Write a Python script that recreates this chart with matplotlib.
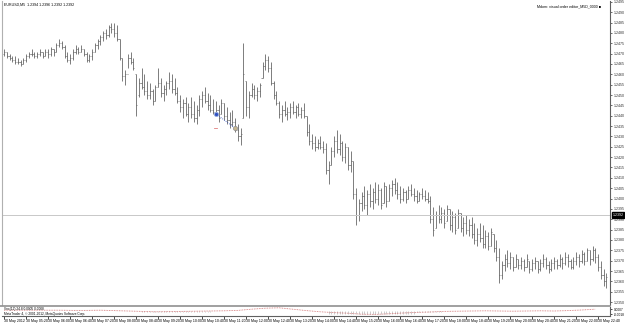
import numpy as np
import matplotlib.pyplot as plt

plt.rcParams['font.family'] = ['Liberation Sans', 'DejaVu Sans']

# EURUSD M5 bars, prices in pips above 1.2300
high = [172, 171, 170, 169, 169, 168, 167, 168, 170, 171, 172, 171, 171, 172, 171, 172, 172, 173, 172,
        175, 177, 176, 174, 171, 170, 172, 174, 173, 174, 172, 171, 170, 172, 175, 177, 179, 181, 182,
        184, 185, 185, 184, 177, 168, 162, 170, 171, 168, 160, 158, 163, 160, 157, 156, 153, 155, 163,
        158, 155, 157, 161, 160, 158, 154, 150, 148, 149, 146, 149, 147, 145, 150, 152, 154, 151, 150,
        148, 147, 145, 148, 146, 144, 142, 143, 139, 136, 134, 175, 157, 152, 156, 155, 154, 156, 166,
        170, 169, 166, 157, 152, 147, 145, 147, 144, 146, 147, 145, 146, 144, 146, 140, 136, 131, 130,
        129, 130, 128, 127, 118, 125, 130, 133, 131, 128, 127, 125, 123, 118, 105, 100, 103, 106, 104,
        107, 105, 108, 107, 105, 108, 106, 107, 109, 110, 108, 106, 105, 104, 106, 107, 105, 104, 103,
        105, 104, 103, 101, 96, 94, 97, 96, 95, 97, 95, 94, 93, 95, 93, 91, 92, 90, 91, 88, 86, 88, 87,
        85, 84, 86, 83, 80, 76, 70, 73, 75, 74, 72, 73, 71, 72, 71, 73, 70, 71, 72, 70, 71, 73, 72, 70,
        71, 72, 71, 73, 72, 74, 73, 71, 72, 74, 73, 75, 74, 76, 75, 77, 76, 73, 70, 66, 64]
low = [169, 168, 167, 166, 165, 165, 164, 165, 166, 168, 169, 168, 168, 169, 168, 169, 168, 169, 169,
       171, 173, 172, 168, 166, 165, 167, 170, 170, 171, 169, 166, 166, 167, 171, 172, 174, 176, 177,
       178, 180, 178, 176, 167, 157, 155, 163, 165, 162, 140, 149, 153, 150, 148, 148, 145, 147, 154,
       149, 147, 150, 153, 151, 150, 146, 142, 139, 140, 137, 139, 137, 136, 140, 144, 146, 143, 142,
       141, 140, 137, 141, 138, 136, 134, 135, 132, 128, 126, 139, 140, 139, 149, 148, 147, 149, 158,
       162, 161, 155, 148, 145, 139, 137, 140, 138, 139, 141, 139, 140, 139, 139, 130, 126, 124, 123,
       124, 124, 122, 112, 107, 116, 120, 122, 121, 118, 117, 114, 113, 100, 87, 89, 94, 95, 92, 96,
       95, 98, 97, 95, 98, 96, 99, 101, 102, 100, 98, 99, 98, 100, 101, 99, 98, 99, 100, 99, 98, 88,
       82, 86, 88, 88, 86, 89, 85, 84, 83, 86, 84, 82, 83, 82, 81, 78, 77, 79, 76, 76, 75, 77, 74, 70,
       59, 61, 65, 67, 66, 65, 67, 66, 66, 65, 67, 64, 65, 66, 64, 65, 67, 66, 64, 65, 66, 66, 67, 66,
       68, 67, 66, 66, 68, 67, 69, 68, 70, 68, 70, 69, 65, 61, 58, 57]
open_ = [170, 171, 169, 168, 167, 166, 166, 165, 167, 169, 170, 170, 169, 170, 171, 169, 171, 170, 172,
         171, 174, 175, 173, 169, 167, 168, 171, 172, 171, 172, 170, 167, 169, 171, 174, 176, 178, 180,
         179, 183, 182, 180, 177, 168, 159, 160, 168, 166, 160, 150, 156, 154, 152, 150, 152, 147, 154,
         156, 151, 153, 156, 157, 153, 151, 147, 144, 146, 141, 144, 141, 139, 143, 148, 150, 147, 145,
         143, 142, 143, 141, 146, 140, 138, 136, 137, 133, 130, 139, 157, 144, 150, 153, 150, 152, 158,
         164, 167, 163, 156, 150, 146, 141, 143, 141, 142, 144, 142, 144, 141, 143, 140, 132, 128, 127,
         125, 127, 125, 124, 114, 116, 123, 128, 124, 127, 120, 125, 116, 118, 102, 92, 98, 101, 97,
         102, 99, 103, 100, 104, 98, 106, 99, 105, 107, 104, 102, 100, 103, 100, 104, 102, 101, 99, 102,
         101, 100, 99, 90, 86, 92, 90, 93, 89, 95, 87, 91, 86, 93, 86, 88, 85, 87, 83, 80, 83, 81, 78,
         82, 77, 83, 76, 72, 63, 68, 71, 69, 72, 67, 71, 68, 70, 67, 70, 66, 69, 70, 66, 69, 71, 68, 66,
         69, 70, 68, 71, 69, 72, 70, 67, 70, 72, 70, 73, 70, 75, 71, 75, 72, 67, 63, 60]
close = [171, 169, 168, 167, 166, 166, 165, 167, 169, 170, 170, 169, 170, 171, 169, 171, 170, 172, 171,
         174, 175, 173, 169, 167, 168, 171, 172, 171, 172, 170, 167, 169, 171, 174, 176, 178, 180, 179,
         183, 182, 180, 177, 168, 159, 160, 168, 166, 163, 145, 156, 154, 152, 150, 152, 147, 154, 156,
         151, 153, 156, 157, 153, 151, 147, 144, 146, 141, 144, 141, 139, 143, 148, 150, 147, 145, 143,
         142, 143, 139, 146, 140, 138, 136, 137, 133, 130, 131, 160, 144, 150, 153, 150, 152, 155, 164,
         167, 163, 156, 150, 146, 141, 143, 141, 142, 144, 142, 144, 141, 143, 140, 132, 128, 127, 125,
         127, 125, 124, 114, 116, 123, 128, 124, 127, 120, 125, 116, 118, 102, 92, 98, 101, 97, 102, 99,
         103, 100, 104, 97, 106, 99, 105, 107, 104, 102, 100, 103, 100, 104, 102, 101, 99, 102, 101,
         100, 99, 90, 85, 92, 90, 93, 88, 95, 87, 91, 85, 93, 86, 88, 85, 87, 83, 80, 83, 81, 78, 82, 77,
         84, 76, 72, 63, 68, 71, 69, 72, 67, 71, 68, 70, 67, 71, 66, 69, 70, 66, 69, 71, 68, 66, 69, 70,
         68, 71, 69, 72, 70, 67, 70, 72, 70, 73, 70, 75, 71, 75, 72, 67, 63, 60, 62]

bid = 1.2392
header = "EURUSD,M5  1.2394 1.2396 1.2392 1.2392"
expert = "Mdom: visual order editor_M5D_0000"

# trade arrows (bar index, pips above 1.2300)
trade_bars = [77, 84]
trade_pips = [141, 134]

time_labels = ["30 May 2012", "30 May 05:20", "30 May 06:00", "30 May 06:40", "30 May 07:20",
               "30 May 08:00", "30 May 08:40", "30 May 09:20", "30 May 10:00", "30 May 10:40",
               "30 May 11:20", "30 May 12:00", "30 May 12:40", "30 May 13:20", "30 May 14:00",
               "30 May 14:40", "30 May 15:20", "30 May 16:00", "30 May 16:40", "30 May 17:20",
               "30 May 18:00", "30 May 18:40", "30 May 19:20", "30 May 20:00", "30 May 20:40",
               "30 May 21:20", "30 May 22:00", "30 May 22:40"]

# indicator sub-window, units of 0.0001
ind_bars = list(range(0, 220, 5))
ind_vals = [3, 3, 3, 3, 3, 2, 2, 3, 1, -1, -3, -5, -4, -3, -2, -1, 0, 2, 8, 13, 15, 8, 1, -5,
            -9, -12, -17, -18, -15, -11, -8, -6, -3, -2, -1, 0, -1, -2, -1, 0, -1, 1, 4, 8]
hist = [0] * 50 + [-6] * 26 + [0] * 42 + [-14] * 32 + [-8] * 10 + [0] * 60
ind_title = "Vnc(12) 24.8 0.0005 0.0008"

base = 1.2300
hi = base + np.array(high) / 1e4
lo = base + np.array(low) / 1e4
op = base + np.array(open_) / 1e4
cl = base + np.array(close) / 1e4
x = np.arange(len(high))

W, H = 625, 325
fig = plt.figure(figsize=(W / 100, H / 100), dpi=100)
fs = 2.6

ax = fig.add_axes([2 / W, 1 - 305 / H, 608 / W, 304 / H])
bar_col = "#5a5a5a"
ax.vlines(x, lo, hi, color=bar_col, lw=0.55)
ax.hlines(op, x - 0.45, x, color=bar_col, lw=0.45)
ax.hlines(cl, x, x + 0.45, color=bar_col, lw=0.45)

ax.axhline(bid, color="#c8c8c8", lw=0.7)

tp = base + np.array(trade_pips) / 1e4
ax.plot(trade_bars, tp, ls=(0, (1, 1.5)), color="#3050c0", lw=0.6)
ax.plot(trade_bars[0], tp[0], "o", ms=3, mfc="#3050c0", mec="#9ab0e0", mew=0.6)
ax.plot(trade_bars[1], tp[1], "o", ms=3, mfc="#c8b890", mec="#909090", mew=0.5)
ax.plot([trade_bars[0] - 0.5, trade_bars[0] + 0.5], [tp[1]] * 2, color="#e08080", lw=0.6)

ax.set_xlim((2 - 4) / 2.75, (610 - 4) / 2.75)
ax.set_ylim(1.23486, 1.24954)
ax.yaxis.tick_right()
yt = np.arange(1.2350, 1.2496, 0.0005)
ax.set_yticks(yt)
ax.set_yticklabels([f"{v:.4f}" for v in yt])
ax.tick_params(axis="y", labelsize=fs, length=1.5, width=0.5, pad=1, colors="#303030")
ax.set_xticks([])
for s in ["top", "bottom"]:
    ax.spines[s].set_visible(False)
ax.spines["left"].set_color("#b0b0b0")
ax.spines["right"].set_color("#606060")
ax.spines["right"].set_linewidth(0.8)

ax.text(1.004, bid, f"{bid:.4f}", transform=ax.get_yaxis_transform(), fontsize=fs,
        color="white", va="center", ha="left",
        bbox=dict(boxstyle="square,pad=0.2", fc="black", ec="black"))
ax.text(0.003, 0.996, header, transform=ax.transAxes, fontsize=fs, va="top", ha="left")
ax.text(0.985, 0.99, expert + " \u25a0", transform=ax.transAxes, fontsize=fs,
        va="top", ha="right")

# separator between windows
fig.add_artist(plt.Line2D([0, 610 / W], [1 - 306 / H] * 2, color="#909090", lw=1.2))

ax2 = fig.add_axes([2 / W, 1 - 316 / H, 608 / W, 9 / H])
hx = np.arange(len(hist))
ax2.vlines(hx, 0, hist, color="#b8b8b8", lw=0.5)
ax2.plot(ind_bars, ind_vals, ls=(0, (1, 1)), color="#d07070", lw=0.6)
ax2.set_xlim(ax.get_xlim())
ax2.set_ylim(-26, 19)
ax2.yaxis.tick_right()
ax2.set_yticks([7, -18])
ax2.set_yticklabels(["0.0007", "-0.0018"])
ax2.tick_params(axis="y", labelsize=fs * 0.9, length=1.5, width=0.5, pad=1)
ax2.set_xticks(np.arange(0, 8 * len(time_labels), 8))
ax2.set_xticklabels(time_labels, ha="left")
ax2.tick_params(axis="x", labelsize=fs, length=2, width=0.5, pad=0.3, direction="out")
for s in ["top", "left"]:
    ax2.spines[s].set_visible(False)
ax2.spines["bottom"].set_color("#606060")
ax2.spines["right"].set_color("#606060")
ax2.text(0.003, 0.98, ind_title, transform=ax2.transAxes, fontsize=fs * 0.9, va="top")
ax2.text(0.003, 0.45, "MetaTrader 4, \u00a9 2001-2012, MetaQuotes Software Corp.",
         transform=ax2.transAxes, fontsize=fs * 0.9, va="top")

fig.savefig("out.png", dpi=100)
